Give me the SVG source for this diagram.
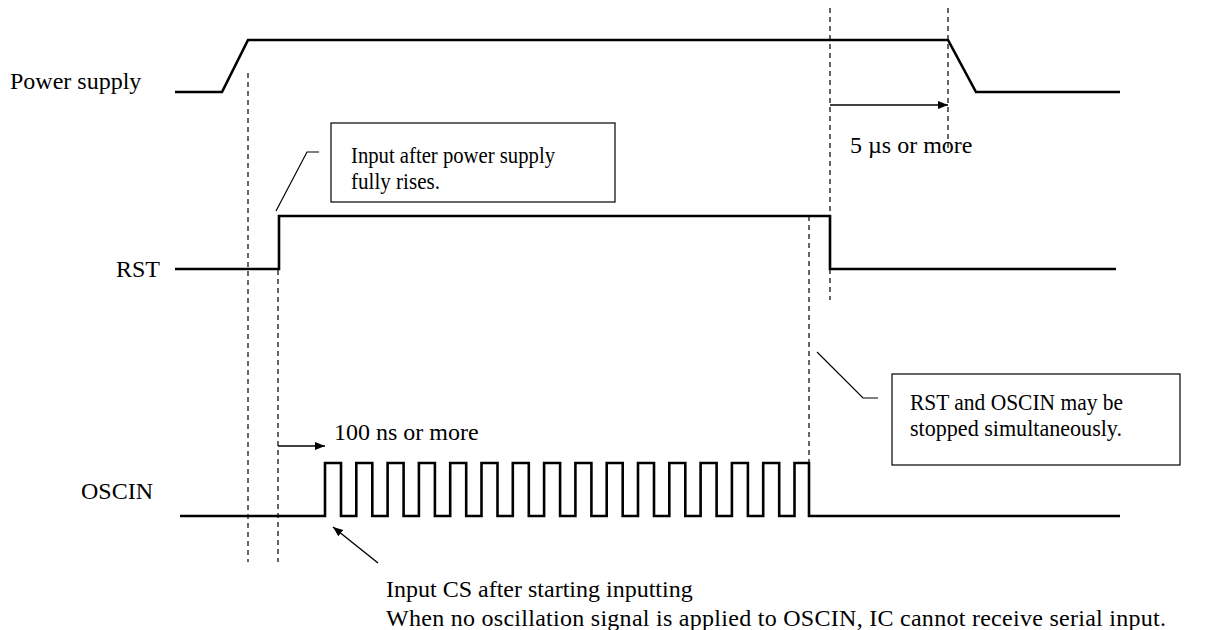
<svg xmlns="http://www.w3.org/2000/svg" width="1206" height="630" viewBox="0 0 1206 630">
<style>
.sig{fill:none;stroke:#000;stroke-width:2.6;stroke-linejoin:miter}
.dash{fill:none;stroke:#000;stroke-width:1.2;stroke-dasharray:5,4}
.lead{fill:none;stroke:#000;stroke-width:1.2}
.arr{fill:none;stroke:#000;stroke-width:1.4;marker-end:url(#ah)}
.box{fill:#fff;stroke:#000;stroke-width:1.2}
text{font-family:"Liberation Serif","Times New Roman",serif;font-size:24px;fill:#000}
</style>
<defs>
<marker id="ah" viewBox="0 0 10 10" refX="10" refY="5" markerWidth="10" markerHeight="10" markerUnits="userSpaceOnUse" orient="auto">
<path d="M0,1 L10,5 L0,9 Z" fill="#000"/>
</marker>
</defs>
<rect width="1206" height="630" fill="#fff"/>
<g id="guides">
<line class="dash" x1="248" y1="73" x2="248" y2="562"/>
<line class="dash" x1="278" y1="270" x2="278" y2="562"/>
<line class="dash" x1="830" y1="8" x2="830" y2="300"/>
<line class="dash" x1="948" y1="8" x2="948" y2="150"/>
<line class="dash" x1="809" y1="216" x2="809" y2="462"/>
</g>
<g id="power-supply">
<text x="10" y="89">Power supply</text>
<polyline class="sig" points="175,92 222,92 248,40 948,40 976,92 1120,92"/>
</g>
<g id="rst">
<text x="116" y="277">RST</text>
<polyline class="sig" points="175,269 279,269 279,216 830,216 830,269 1116,269"/>
</g>
<g id="oscin">
<text x="81" y="499">OSCIN</text>
<path class="sig" d="M180,516 H325 V463 H341 V516 H356.3 V463 H372.3 V516 H387.6 V463 H403.6 V516 H418.9 V463 H434.9 V516 H450.2 V463 H466.2 V516 H481.5 V463 H497.5 V516 H512.8 V463 H528.8 V516 H544.1 V463 H560.1 V516 H575.4 V463 H591.4 V516 H606.7 V463 H622.7 V516 H638 V463 H654 V516 H669.3 V463 H685.3 V516 H700.6 V463 H716.6 V516 H731.9 V463 H747.9 V516 H763.2 V463 H779.2 V516 H794.5 V463 H809 V516 H1120"/>
</g>
<g id="note-power">
<rect class="box" x="331" y="123" width="284" height="79"/>
<text x="351" y="163" textLength="204" lengthAdjust="spacingAndGlyphs">Input after power supply</text>
<text x="351" y="189" textLength="89" lengthAdjust="spacingAndGlyphs">fully rises.</text>
</g>
<g id="note-stop">
<rect class="box" x="892" y="374" width="288" height="91"/>
<text x="910" y="410" textLength="213" lengthAdjust="spacingAndGlyphs">RST and OSCIN may be</text>
<text x="910" y="436" textLength="212" lengthAdjust="spacingAndGlyphs">stopped simultaneously.</text>
</g>
<g id="label-5us">
<text x="850" y="153">5 µs or more</text>
</g>
<g id="label-100ns">
<text x="334" y="440">100 ns or more</text>
</g>
<g id="note-cs">
<text x="386" y="597">Input CS after starting inputting</text>
<text x="386" y="626" textLength="780" lengthAdjust="spacing">When no oscillation signal is applied to OSCIN, IC cannot receive serial input.</text>
</g>
<g id="connectors">
<polyline class="lead" points="276,211 307,152 319,152"/>
<polyline class="lead" points="817,352 863,398 878,398"/>
<line class="arr" x1="830" y1="105" x2="948" y2="105"/>
<line class="arr" x1="278" y1="446" x2="325" y2="446"/>
<line class="arr" x1="378" y1="563" x2="333" y2="527"/>
</g>
</svg>
